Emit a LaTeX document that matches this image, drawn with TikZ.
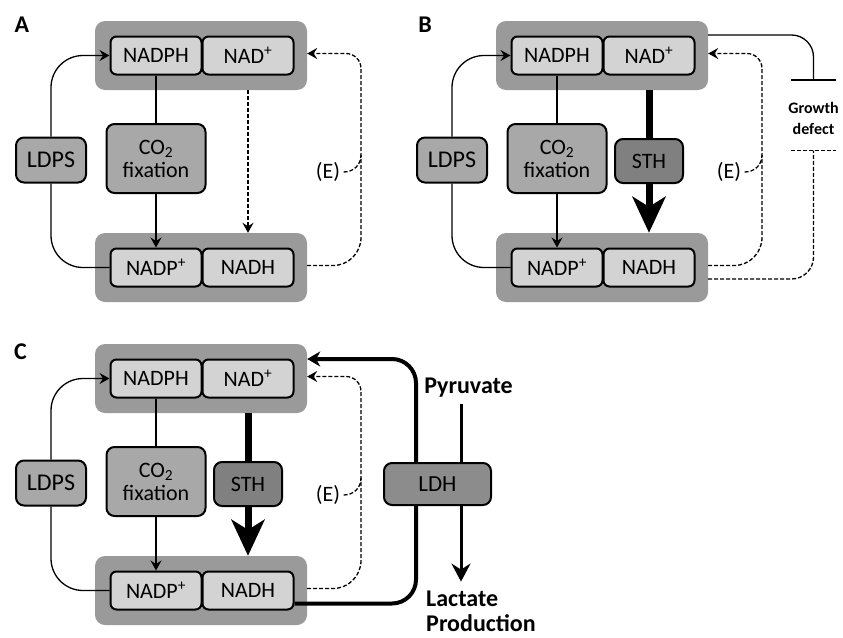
\documentclass[tikz,border=0pt]{standalone}
\usepackage{fontspec}
\setmainfont{Carlito}
\usetikzlibrary{arrows.meta}

\definecolor{outergray}{HTML}{9A9A9A}
\definecolor{innergray}{HTML}{D3D3D3}
\definecolor{enzgray}{HTML}{A8A8A8}
\definecolor{sthgray}{HTML}{808080}
\definecolor{ldhgray}{HTML}{8C8C8C}

\tikzset{
  outerbox/.style={fill=outergray, rounded corners=10pt, minimum width=212pt, minimum height=69pt},
  cofactor/.style={draw, line width=2pt, fill=innergray, rounded corners=6pt,
    minimum width=91pt, minimum height=38pt, inner sep=0pt, font=\fontsize{22}{24}\selectfont},
  enzyme/.style={draw, line width=2pt, rounded corners=8pt, inner sep=0pt, align=center},
  conn/.style={line width=1.3pt},
  dashconn/.style={line width=1.3pt, dash pattern=on 4pt off 2pt},
  headed/.style={-{Stealth[length=10pt,width=11pt,inset=3.5pt]}},
  panel/.style={font=\bfseries\fontsize{24}{28}\selectfont},
  bigtext/.style={font=\bfseries\fontsize{24}{25}\selectfont, align=left},
}

\begin{document}
\begin{tikzpicture}[x=1pt, y=-1pt]
\useasboundingbox (0,0) rectangle (843,637);

% pools, LDPS, CO2 fixation and (E): the same in every panel
\def\cofactors#1{
  \node[outerbox] (top#1) at (201,55.5) {};
  \node[cofactor] (nadph#1) at (156,55.5) {NADPH};
  \node[cofactor] (nad#1) at (248,55.5) {NAD\textsuperscript{+}};
  \node[outerbox] (bot#1) at (201,267.5) {};
  \node[cofactor] (nadp#1) at (156,267.5) {NADP\textsuperscript{+}};
  \node[cofactor] (nadh#1) at (248,267.5) {NADH};
  \node[enzyme, fill=enzgray, minimum width=70pt, minimum height=45pt, font=\fontsize{24}{28}\selectfont] (ldps#1) at (51,160) {LDPS};
  \node[enzyme, fill=enzgray, minimum width=99pt, minimum height=69pt, font=\fontsize{22}{23}\selectfont] (co#1) at (156,158.5) {CO\textsubscript{2}\\fixation};
  \draw[conn, headed, rounded corners=32pt] (ldps#1.north) |- (nadph#1.west);
  \draw[conn, rounded corners=32pt] (ldps#1.south) |- (nadp#1.west);
  \draw[conn] (nadph#1.south) -- (co#1.north);
  \draw[conn, headed] (co#1.south) -- (nadp#1.north);
  \node[font=\fontsize{22}{24}\selectfont] (e#1) at (328,172) {(E)};
  \coordinate (eloop#1) at (361,155);
  \draw[dashconn, headed] ([yshift=2pt]bot#1.east) [rounded corners=28pt] -| (eloop#1) [rounded corners=15pt] |- ([yshift=2pt]top#1.east);
  \draw[dashconn] (e#1.east) .. controls +(10,0) and +(0,10) .. (eloop#1);
}

% A
\node[panel] (labelA) at (22,25) {A};
\cofactors{A}
\draw[dashconn, headed] (nadA |- topA.south) -- (nadA |- botA.north);

% B
\begin{scope}[shift={(401,0)}]
  \node[panel] (labelB) at (24,25) {B};
  \cofactors{B}
  \node[enzyme, fill=sthgray, minimum width=68pt, minimum height=44pt, font=\fontsize{22}{26}\selectfont] (sthB) at (248,161) {STH};
  \draw[line width=7pt] (nadB |- topB.south) -- (sthB.north);
  \draw[line width=7pt, -{Stealth[length=36pt,width=33pt,inset=10pt]}] (sthB.south) -- (nadB |- botB.north);
  \node[font=\bfseries\fontsize{16}{21}\selectfont, align=center] (growthB) at (412.5,118) {Growth\\defect};
  \coordinate (growbar) at ([yshift=18pt]growthB.north);
  \coordinate (defbar) at ([yshift=-13pt]growthB.south);
  \draw[conn, rounded corners=22pt] ([yshift=20.5pt]topB.east) -| (growbar);
  \draw[line width=1.6pt] ([xshift=-22.5pt]growbar) -- ([xshift=22.5pt]growbar);
  \draw[dashconn, rounded corners=22pt] ([yshift=-11.5pt]botB.east) -| (defbar);
  \draw[dashconn] ([xshift=-22.5pt]defbar) -- ([xshift=22.5pt]defbar);
\end{scope}

% C
\begin{scope}[shift={(0,323)}]
  \node[panel] (labelC) at (20.5,29) {C};
  \cofactors{C}
  \node[enzyme, fill=sthgray, minimum width=68pt, minimum height=44pt, font=\fontsize{22}{26}\selectfont] (sthC) at (248,161) {STH};
  \draw[line width=7pt] (nadC |- topC.south) -- (sthC.north);
  \draw[line width=7pt, -{Stealth[length=36pt,width=33pt,inset=10pt]}] (sthC.south) -- (nadC |- botC.north);
  \node[enzyme, fill=ldhgray, minimum width=107pt, minimum height=42pt, font=\fontsize{23}{26}\selectfont] (ldhC) at (437.5,161) {LDH};
  \draw[line width=4pt, rounded corners=24pt] ([yshift=-13pt]nadhC.east) -| ([xshift=-21.5pt]ldhC.south);
  \draw[line width=4pt, rounded corners=24pt, -{Stealth[length=13pt,width=15pt,inset=4pt]}] ([xshift=-21.5pt]ldhC.north) |- ([yshift=19.5pt]topC.east);
  \node[bigtext] (pyruvateC) at (468.5,65) {Pyruvate};
  \node[bigtext] (lactateC) at (481,288.5) {Lactate\\Production};
  \coordinate (pyrC) at ([xshift=23.5pt]ldhC.north);
  \coordinate (lacC) at ([xshift=23.5pt]ldhC.south);
  \draw[line width=3pt, shorten <=3pt] (pyrC |- pyruvateC.south) -- (pyrC);
  \draw[line width=3pt, shorten >=6pt, -{Stealth[length=18pt,width=19pt,inset=6pt]}] (lacC) -- (lacC |- lactateC.north);
\end{scope}

\end{tikzpicture}
\end{document}
